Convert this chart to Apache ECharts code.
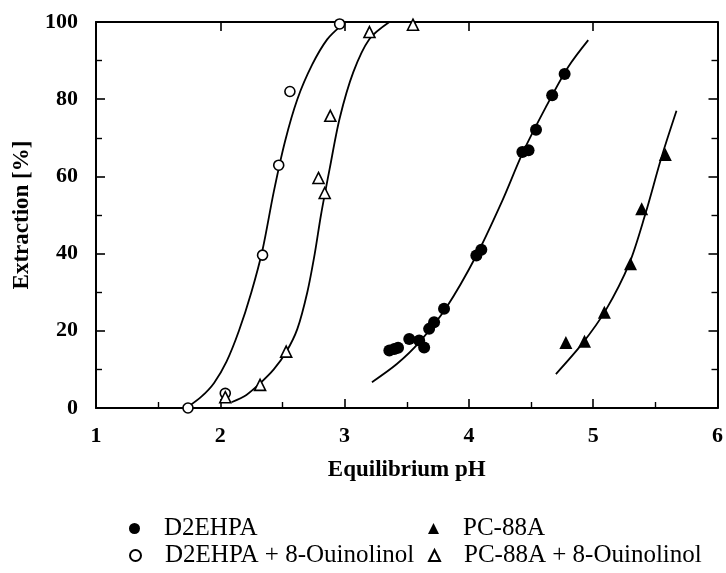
<!DOCTYPE html>
<html>
<head>
<meta charset="utf-8">
<script src="https://cdn.jsdelivr.net/npm/echarts@6/dist/echarts.min.js"></script>
<style>
html,body{margin:0;padding:0;background:#fff;}
#chart{width:726px;height:573px;}
</style>
</head>
<body>
<div id="chart"></div>
<script>
// ---- data ----
const seriesNames = ['D2EHPA', 'D2EHPA + 8-Ouinolinol', 'PC-88A', 'PC-88A + 8-Ouinolinol'];

const d2ehpaPH  = [3.36, 3.40, 3.43, 3.52, 3.60, 3.64, 3.68, 3.72, 3.80, 4.06, 4.10, 4.43, 4.48, 4.54, 4.67, 4.77];
const d2ehpaExt = [14.9, 15.3, 15.6, 17.9, 17.5, 15.7, 20.5, 22.2, 25.7, 39.5, 41.0, 66.3, 66.8, 72.1, 81.0, 86.5];

const d2ehpaQPH  = [1.74, 2.04, 2.34, 2.47, 2.56, 2.96];
const d2ehpaQExt = [0.0, 3.8, 39.6, 62.9, 82.0, 99.5];

const pc88aPH  = [4.78, 4.93, 5.09, 5.30, 5.39, 5.58];
const pc88aExt = [17.0, 17.3, 24.8, 37.4, 51.6, 65.7];

const pc88aQPH  = [2.04, 2.32, 2.53, 2.79, 2.84, 2.885, 3.20, 3.55];
const pc88aQExt = [2.8, 6.0, 14.6, 59.6, 55.7, 75.7, 97.4, 99.3];

// fitted curves
const fitD2ehpaPH  = [3.22, 3.42, 3.60, 3.82, 4.06, 4.27, 4.43, 4.62, 4.80, 4.96];
const fitD2ehpaExt = [6.7, 11.4, 17.0, 26.1, 39.5, 53.8, 65.9, 78.0, 88.4, 95.3];

const fitD2ehpaQPH  = [1.74, 1.85, 1.95, 2.05, 2.15, 2.25, 2.34, 2.43, 2.52, 2.62, 2.74, 2.86, 2.97];
const fitD2ehpaQExt = [0.3, 3.0, 6.5, 12.0, 20.0, 30.0, 41.0, 56.0, 69.0, 80.0, 89.0, 95.5, 99.0];

const fitPc88aPH  = [4.70, 4.91, 5.10, 5.29, 5.42, 5.55, 5.67];
const fitPc88aExt = [8.8, 16.6, 25.3, 37.4, 50.3, 65.0, 77.0];

const fitPc88aQPH  = [2.09, 2.21, 2.32, 2.43, 2.53, 2.62, 2.70, 2.76, 2.81, 2.88, 2.96, 3.07, 3.20, 3.36];
const fitPc88aQExt = [1.5, 3.4, 6.4, 10.0, 14.5, 20.5, 30.0, 40.0, 50.0, 62.0, 75.0, 87.0, 95.6, 100.0];

const xTicks = [1, 2, 3, 4, 5, 6];
const yTicks = [0, 20, 40, 60, 80, 100];

// ---- build ----
const zip = (a, b) => a.map((v, i) => [v, b[i]]);
const INK = '#000';
const serif = '"Liberation Serif", "Times New Roman", serif';

function scatter(name, xs, ys, symbol, filled, size) {
  return {
    name, type: 'scatter', data: zip(xs, ys), symbol, symbolSize: size,
    itemStyle: filled
      ? { color: INK, opacity: 1 }
      : { color: '#fff', borderColor: INK, borderWidth: 1.6, opacity: 1 },
    z: 5
  };
}
function curve(xs, ys) {
  return {
    type: 'line', data: zip(xs, ys), smooth: 0.3, showSymbol: false, symbol: 'none',
    lineStyle: { color: INK, width: 1.8 }, silent: true, z: 3
  };
}

function axis(extra, minor) {
  return Object.assign({
    axisLine: { show: true, onZero: false, lineStyle: { color: INK, width: 2 } },
    axisTick: { show: true, inside: true, length: 9, lineStyle: { color: INK, width: 1.6 } },
    minorTick: { show: minor, splitNumber: 2, length: 6, lineStyle: { color: INK, width: 1.4 } },
    splitLine: { show: false }
  }, extra);
}

function legendItem(name, left, top) {
  return {
    data: [name], orient: 'horizontal', left, top, padding: 0,
    itemWidth: 11, itemHeight: 11,
    textStyle: { fontFamily: serif, fontSize: 25, color: INK, lineHeight: 25, padding: [0, 0, 0, 19] }
  };
}

const option = {
  animation: false,
  backgroundColor: '#fff',
  grid: { left: 96, right: 6, top: 22, bottom: 165 },
  xAxis: [
    axis({
      type: 'value', min: xTicks[0], max: xTicks[xTicks.length - 1], interval: 1,
      name: 'Equilibrium pH', nameLocation: 'middle', nameGap: 51,
      nameTextStyle: { fontFamily: serif, fontWeight: 'bold', fontSize: 23, color: INK },
      axisLabel: { margin: 17, fontFamily: serif, fontWeight: 'bold', fontSize: 22, color: INK }
    }, true),
    axis({
      type: 'value', position: 'top', min: xTicks[0], max: xTicks[xTicks.length - 1], interval: 1,
      axisLabel: { show: false }
    }, false)
  ],
  yAxis: [
    axis({
      type: 'value', min: yTicks[0], max: yTicks[yTicks.length - 1], interval: 20,
      name: 'Extraction [%]', nameLocation: 'middle', nameGap: 62, nameRotate: 90,
      nameTextStyle: { fontFamily: serif, fontWeight: 'bold', fontSize: 23, color: INK },
      axisLabel: { margin: 18, fontFamily: serif, fontWeight: 'bold', fontSize: 22, color: INK }
    }, true),
    axis({
      type: 'value', position: 'right', min: yTicks[0], max: yTicks[yTicks.length - 1], interval: 20,
      axisLabel: { show: false }
    }, true)
  ],
  legend: [
    legendItem(seriesNames[0], 129, 516),
    legendItem(seriesNames[1], 129, 543),
    legendItem(seriesNames[2], 428, 516),
    legendItem(seriesNames[3], 428, 543)
  ],
  series: [
    scatter(seriesNames[0], d2ehpaPH, d2ehpaExt, 'circle', true, 12),
    scatter(seriesNames[1], d2ehpaQPH, d2ehpaQExt, 'circle', false, 10),
    scatter(seriesNames[2], pc88aPH, pc88aExt, 'triangle', true, 13),
    scatter(seriesNames[3], pc88aQPH, pc88aQExt, 'triangle', false, 11),
    curve(fitD2ehpaPH, fitD2ehpaExt),
    curve(fitD2ehpaQPH, fitD2ehpaQExt),
    curve(fitPc88aPH, fitPc88aExt),
    curve(fitPc88aQPH, fitPc88aQExt)
  ]
};

const chart = echarts.init(document.getElementById('chart'), null, { renderer: 'canvas' });
chart.setOption(option);
</script>
</body>
</html>
